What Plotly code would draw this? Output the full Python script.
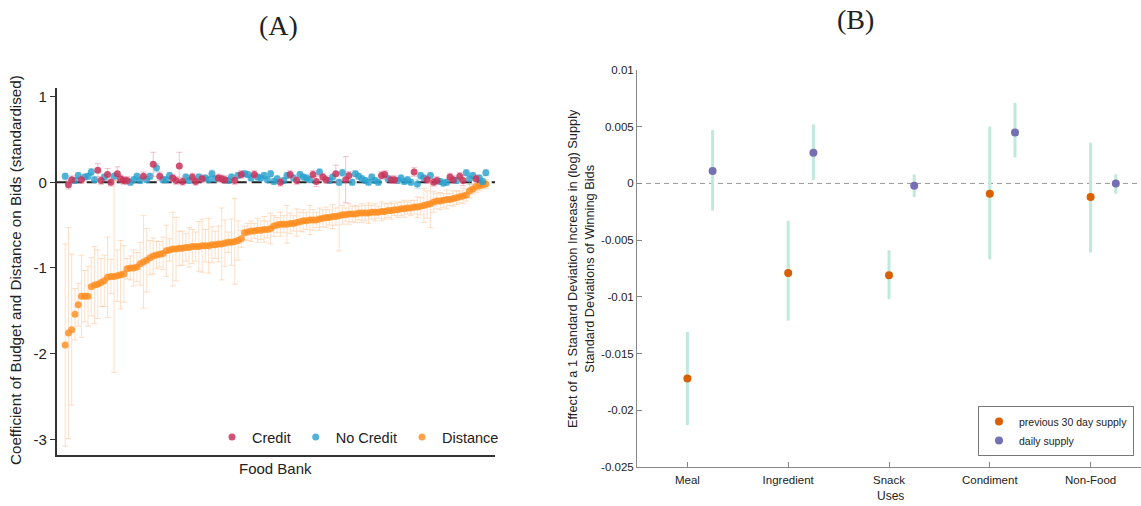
import plotly.graph_objects as go

W, H = 1141, 506

# ---------------- Panel A data ----------------
distance_coef = [
    -1.90, -1.76, -1.72, -1.54, -1.43, -1.33, -1.33, -1.33, -1.22, -1.20,
    -1.19, -1.17, -1.15, -1.11, -1.10, -1.10, -1.09, -1.08, -1.07, -1.01,
    -1.00, -1.00, -0.99, -0.95, -0.93, -0.91, -0.88, -0.86, -0.85, -0.84,
    -0.83, -0.80, -0.79, -0.78, -0.78, -0.77, -0.77, -0.76, -0.76, -0.75,
    -0.75, -0.75, -0.74, -0.74, -0.74, -0.73, -0.73, -0.72, -0.72, -0.71,
    -0.70, -0.70, -0.69, -0.68, -0.66, -0.59, -0.58, -0.57, -0.57, -0.56,
    -0.56, -0.55, -0.55, -0.54, -0.51, -0.50, -0.49, -0.49, -0.49, -0.48,
    -0.48, -0.47, -0.46, -0.45, -0.45, -0.44, -0.44, -0.44, -0.43, -0.42,
    -0.41, -0.41, -0.40, -0.40, -0.39, -0.38, -0.38, -0.37, -0.37, -0.37,
    -0.36, -0.36, -0.36, -0.36, -0.35, -0.35, -0.35, -0.34, -0.34, -0.33,
    -0.33, -0.32, -0.32, -0.31, -0.31, -0.30, -0.30, -0.29, -0.29, -0.28,
    -0.27, -0.26, -0.25, -0.23, -0.22, -0.22, -0.21, -0.20, -0.20, -0.19,
    -0.18, -0.17, -0.16, -0.15, -0.10, -0.08, -0.05, -0.04, -0.03, -0.02,
]
distance_err = [
    1.18, 1.23, 0.88, 0.30, 0.25, 0.48, 0.30, 0.35, 0.34, 0.45,
    0.40, 0.28, 0.30, 0.47, 0.20, 1.12, 0.30, 0.40, 0.33, 0.12,
    0.14, 0.21, 0.17, 0.25, 0.54, 0.37, 0.20, 0.21, 0.16, 0.15,
    0.19, 0.30, 0.13, 0.43, 0.37, 0.20, 0.20, 0.16, 0.23, 0.20,
    0.17, 0.29, 0.31, 0.19, 0.32, 0.21, 0.16, 0.21, 0.42, 0.27,
    0.12, 0.27, 0.50, 0.23, 0.10, 0.08, 0.10, 0.12, 0.09, 0.14,
    0.11, 0.15, 0.10, 0.18, 0.12, 0.09, 0.14, 0.10, 0.22, 0.12,
    0.09, 0.16, 0.11, 0.13, 0.10, 0.17, 0.12, 0.09, 0.13, 0.10,
    0.12, 0.09, 0.14, 0.10, 0.41, 0.11, 0.08, 0.12, 0.09, 0.10,
    0.08, 0.11, 0.09, 0.12, 0.08, 0.10, 0.07, 0.11, 0.09, 0.08,
    0.10, 0.07, 0.09, 0.08, 0.10, 0.07, 0.09, 0.08, 0.12, 0.10,
    0.20, 0.16, 0.28, 0.12, 0.09, 0.10, 0.08, 0.11, 0.07, 0.09,
    0.08, 0.07, 0.09, 0.07, 0.08, 0.06, 0.07, 0.06, 0.05, 0.05,
]
budget_coef = [
    0.07, -0.03, 0.03, 0.02, 0.08, 0.03, 0.06, 0.07, 0.12, 0.03,
    0.14, 0.02, 0.06, 0.09, 0.00, 0.07, 0.10, 0.04, 0.02, 0.02,
    0.00, 0.03, 0.07, 0.02, 0.07, 0.03, 0.07, 0.21, 0.17, 0.07,
    0.03, 0.03, 0.08, 0.05, 0.02, 0.19, 0.01, 0.06, 0.02, 0.06,
    0.01, 0.06, 0.04, 0.05, 0.03, 0.10, 0.04, 0.05, 0.04, 0.03,
    0.02, 0.06, 0.02, 0.08, 0.09, 0.10, 0.09, 0.05, 0.09, 0.06,
    0.05, 0.08, 0.03, 0.10, 0.01, 0.04, 0.00, 0.02, 0.08, 0.09,
    0.05, 0.02, 0.09, 0.06, 0.05, 0.03, 0.09, 0.01, 0.12, 0.06,
    0.03, 0.02, 0.06, 0.10, 0.00, 0.11, 0.03, 0.08, 0.00, 0.10,
    0.07, 0.04, 0.02, 0.00, 0.06, 0.02, 0.00, 0.08, 0.09, 0.04,
    0.03, 0.03, 0.02, 0.05, 0.01, 0.03, 0.00, 0.12, -0.02, 0.08,
    0.05, 0.03, 0.08, 0.00, 0.02, 0.01, -0.01, 0.00, 0.06, 0.03,
    0.02, 0.07, 0.02, 0.11, 0.04, 0.08, 0.04, 0.05, 0.01, 0.11,
]
budget_group = [
    "N", "C", "C", "N", "N", "C", "N", "N", "N", "N",
    "C", "C", "N", "C", "C", "N", "C", "C", "C", "C",
    "N", "N", "N", "N", "C", "N", "N", "C", "N", "C",
    "N", "N", "N", "C", "C", "C", "C", "N", "N", "C",
    "C", "N", "C", "N", "N", "N", "N", "C", "C", "C",
    "N", "N", "C", "N", "C", "N", "N", "N", "C", "N",
    "N", "N", "N", "N", "N", "N", "C", "N", "N", "C",
    "N", "C", "N", "N", "N", "N", "C", "C", "N", "C",
    "C", "N", "N", "C", "N", "N", "C", "C", "N", "N",
    "N", "N", "N", "N", "N", "N", "N", "C", "C", "N",
    "C", "C", "N", "N", "N", "N", "N", "C", "N", "N",
    "N", "C", "N", "C", "C", "N", "N", "N", "C", "C",
    "N", "C", "C", "N", "N", "N", "C", "N", "N", "N",
]
budget_err = [
    0.035, 0.05, 0.045, 0.035, 0.035, 0.045, 0.035, 0.035, 0.04, 0.035,
    0.08, 0.045, 0.035, 0.07, 0.045, 0.035, 0.08, 0.045, 0.045, 0.045,
    0.035, 0.035, 0.035, 0.035, 0.05, 0.035, 0.035, 0.14, 0.05, 0.05,
    0.035, 0.035, 0.035, 0.045, 0.045, 0.16, 0.045, 0.035, 0.035, 0.045,
    0.045, 0.035, 0.045, 0.035, 0.035, 0.04, 0.035, 0.045, 0.045, 0.045,
    0.035, 0.035, 0.045, 0.035, 0.045, 0.035, 0.035, 0.035, 0.045, 0.035,
    0.035, 0.035, 0.035, 0.035, 0.035, 0.035, 0.045, 0.035, 0.035, 0.045,
    0.035, 0.045, 0.035, 0.035, 0.035, 0.035, 0.045, 0.06, 0.035, 0.045,
    0.045, 0.035, 0.035, 0.10, 0.035, 0.04, 0.27, 0.045, 0.035, 0.035,
    0.035, 0.035, 0.035, 0.035, 0.035, 0.035, 0.035, 0.045, 0.045, 0.035,
    0.045, 0.045, 0.035, 0.035, 0.035, 0.035, 0.035, 0.05, 0.05, 0.035,
    0.035, 0.045, 0.035, 0.045, 0.045, 0.035, 0.035, 0.035, 0.045, 0.045,
    0.035, 0.045, 0.06, 0.035, 0.06, 0.035, 0.045, 0.035, 0.035, 0.035,
]
panel_a_ticks = [1, 0, -1, -2, -3]
panel_a_ticktext = ["1", "0", "-1", "-2", "-3"]

# ---------------- Panel B data ----------------
uses = ["Meal", "Ingredient", "Snack", "Condiment", "Non-Food"]
prev30_coef = [-0.0172, -0.0079, -0.0081, -0.0009, -0.0012]
prev30_lo = [-0.0213, -0.0121, -0.0102, -0.0067, -0.0061]
prev30_hi = [-0.0131, -0.0033, -0.0059, 0.0050, 0.0036]
daily_coef = [0.0011, 0.0027, -0.0002, 0.0045, 0.0000]
daily_lo = [-0.0024, 0.0003, -0.0012, 0.0023, -0.0009]
daily_hi = [0.0047, 0.0052, 0.0008, 0.0071, 0.0008]
panel_b_ticks = [0.01, 0.005, 0, -0.005, -0.01, -0.015, -0.02, -0.025]
panel_b_ticktext = ["0.01", "0.005", "0", "-0.005", "-0.01", "-0.015", "-0.02", "-0.025"]

# ---------------- colours ----------------
C_CREDIT, C_CREDIT_ERR = "rgba(200,50,90,0.85)", "rgba(225,120,150,0.45)"
C_NOCRED, C_NOCRED_ERR = "rgba(40,160,205,0.8)", "rgba(70,175,215,0.4)"
C_DIST, C_DIST_ERR = "rgba(255,140,30,0.8)", "rgba(255,185,130,0.45)"
C_PREV, C_DAILY, C_CI = "#D95F02", "#7570B3", "#BFE9DB"

fig = go.Figure()

n = len(distance_coef)
idx = list(range(n))

# distance
fig.add_trace(go.Scatter(
    x=idx, y=distance_coef, mode="markers", name="Distance",
    marker=dict(color=C_DIST, size=7),
    error_y=dict(type="data", array=distance_err, color=C_DIST_ERR, thickness=1, width=3),
    xaxis="x", yaxis="y", legend="legend", legendrank=3,
))

for grp, nm, col, ecol, rank in [("N", "No Credit", C_NOCRED, C_NOCRED_ERR, 2),
                                  ("C", "Credit", C_CREDIT, C_CREDIT_ERR, 1)]:
    xs = [i for i, g in enumerate(budget_group) if g == grp]
    fig.add_trace(go.Scatter(
        x=xs, y=[budget_coef[i] for i in xs], mode="markers", name=nm,
        marker=dict(color=col, size=7),
        error_y=dict(type="data", array=[budget_err[i] for i in xs], color=ecol, thickness=1, width=3),
        xaxis="x", yaxis="y", legend="legend", legendrank=rank,
    ))

# panel B
xb = list(range(len(uses)))
fig.add_trace(go.Scatter(
    x=xb, y=prev30_coef, mode="markers", name="previous 30 day supply",
    marker=dict(color=C_PREV, size=8),
    error_y=dict(type="data", symmetric=False,
                 array=[h - c for h, c in zip(prev30_hi, prev30_coef)],
                 arrayminus=[c - l for l, c in zip(prev30_lo, prev30_coef)],
                 color=C_CI, thickness=3, width=0),
    xaxis="x2", yaxis="y2", legend="legend2",
))
fig.add_trace(go.Scatter(
    x=[i + 0.25 for i in xb], y=daily_coef, mode="markers", name="daily supply",
    marker=dict(color=C_DAILY, size=8),
    error_y=dict(type="data", symmetric=False,
                 array=[h - c for h, c in zip(daily_hi, daily_coef)],
                 arrayminus=[c - l for l, c in zip(daily_lo, daily_coef)],
                 color=C_CI, thickness=3, width=0),
    xaxis="x2", yaxis="y2", legend="legend2",
))

A_FONT = "Liberation Sans, Arial, sans-serif"
B_FONT = "Liberation Sans, Helvetica, Arial, sans-serif"


def ann(text, xp, yp, size, family, angle=0):
    return dict(text=text, x=xp / W, y=1 - yp / H, xref="paper", yref="paper",
                xanchor="center", yanchor="middle", textangle=angle, showarrow=False,
                font=dict(family=family, size=size, color="#222"))


fig.update_layout(
    width=W, height=H, margin=dict(l=0, r=0, t=0, b=0, autoexpand=False),
    paper_bgcolor="white", plot_bgcolor="white",
    xaxis=dict(domain=[56.7 / W, 495 / W], range=[-2.6, 131.8], showticklabels=False,
               ticks="", showgrid=False, zeroline=False, showline=True,
               linecolor="#333", linewidth=1.5, anchor="y", automargin=False),
    yaxis=dict(domain=[1 - 455 / H, 1 - 88 / H], range=[-3.183, 1.10],
               tickvals=panel_a_ticks, ticktext=panel_a_ticktext, ticks="outside",
               ticklen=5, tickcolor="#333", showgrid=False, zeroline=False,
               showline=True, linecolor="#333", linewidth=1.5, anchor="x", automargin=False,
               tickfont=dict(family=A_FONT, size=15, color="#222")),
    xaxis2=dict(domain=[637 / W, 1.0], range=[-0.5, 4.5], tickvals=xb, ticktext=uses,
                ticks="inside", ticklen=5, tickcolor="#888", showgrid=False,
                zeroline=False, showline=True, linecolor="#888", linewidth=1,
                anchor="y2", automargin=False, ticklabelstandoff=2,
                tickfont=dict(family=B_FONT, size=11.5, color="#222")),
    yaxis2=dict(domain=[1 - 467 / H, 1 - 70 / H], range=[-0.025, 0.01],
                tickvals=panel_b_ticks, ticktext=panel_b_ticktext, ticks="inside",
                ticklen=5, tickcolor="#888", showgrid=False, zeroline=False,
                showline=True, linecolor="#888", linewidth=1, anchor="x2", automargin=False,
                tickfont=dict(family=B_FONT, size=11.5, color="#222")),
    legend=dict(orientation="h", x=212 / W, y=1 - 437 / H, xanchor="left", yanchor="middle",
                bgcolor="rgba(0,0,0,0)", font=dict(family=A_FONT, size=14.5, color="#222"),
                traceorder="normal"),
    legend2=dict(x=978 / W, y=1 - 456 / H, xanchor="left", yanchor="bottom",
                 bgcolor="white", bordercolor="#777", borderwidth=1,
                 font=dict(family=B_FONT, size=10.5, color="#222")),
    shapes=[
        dict(type="line", xref="x domain", x0=0, x1=1, yref="y", y0=0, y1=0,
             line=dict(color="#222", width=2, dash="10px,5px"), layer="below"),
        dict(type="line", xref="x2 domain", x0=0, x1=1, yref="y2", y0=0, y1=0,
             line=dict(color="#999", width=1, dash="5px,4px"), layer="below"),
    ],
    annotations=[
        ann("(A)", 278, 25, 28, "Liberation Serif, serif"),
        ann("(B)", 855, 20, 28, "Liberation Serif, serif"),
        ann("Coefficient of Budget and Distance on Bids (standardised)", 15, 270, 15.2, A_FONT, -90),
        ann("Food Bank", 275, 468, 15, A_FONT),
        ann("Effect of a 1 Standard Deviation Increase in (log) Supply<br>Standard Deviations of Winning Bids",
            581, 268, 12.8, B_FONT, -90),
        ann("Uses", 890, 496, 12, B_FONT),
    ],
)

fig.write_html("out.html")
